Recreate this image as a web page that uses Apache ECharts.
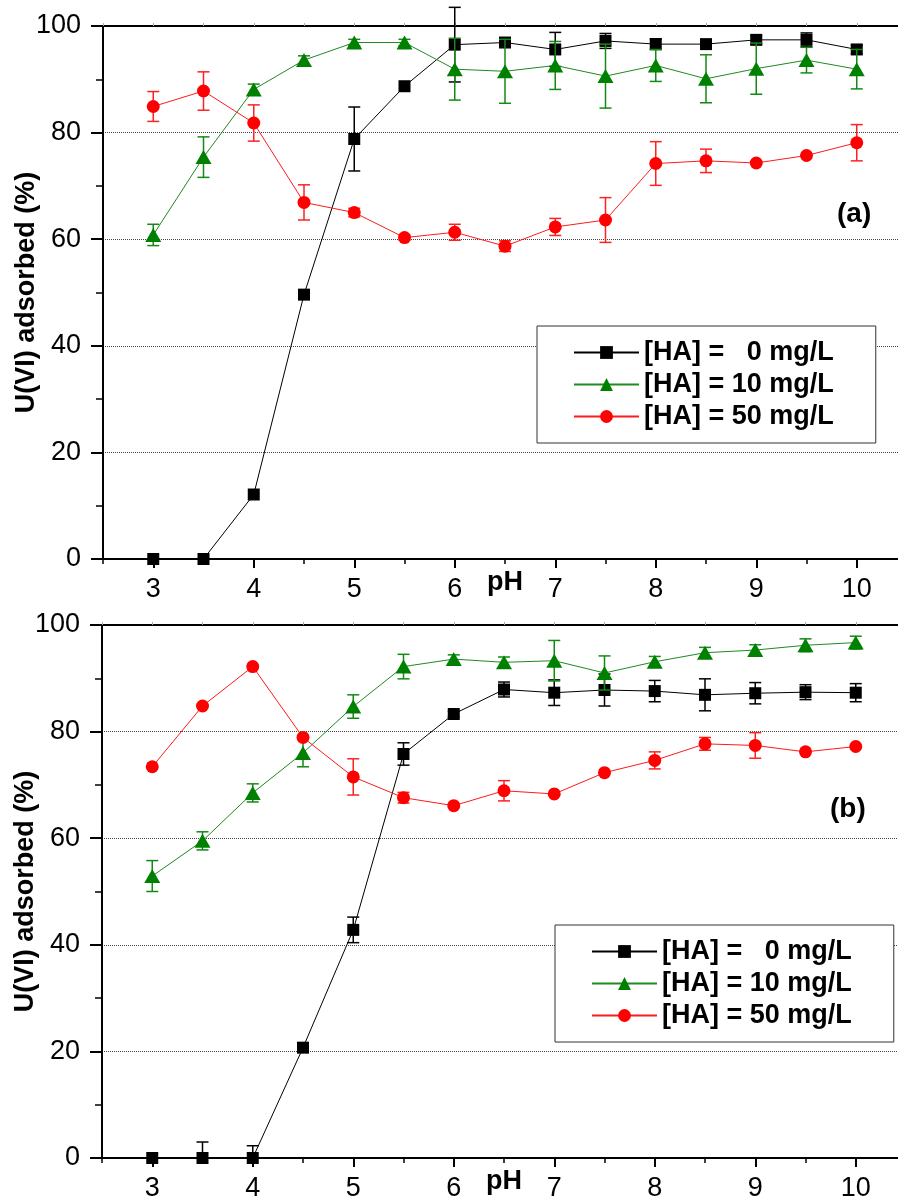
<!DOCTYPE html>
<html>
<head>
<meta charset="utf-8">
<script src="https://cdn.jsdelivr.net/npm/echarts@6/dist/echarts.min.js"></script>
<style>
  html, body { margin: 0; padding: 0; background: #fff; }
  #chart { width: 898px; height: 1202px; }
</style>
</head>
<body>
<div id="chart"></div>
<script>
// pH values of the adsorption runs
const pH = [3, 3.5, 4, 4.5, 5, 5.5, 6, 6.5, 7, 7.5, 8, 8.5, 9, 9.5, 10];
const pHLabels = [3, 4, 5, 6, 7, 8, 9, 10];
const yTicks = [0, 20, 40, 60, 80, 100];

// Panel (a): U(VI) adsorbed (%) and error (±)
const a_HA0 = [0, 0, 12.1, 49.6, 78.8, 88.7, 96.5, 96.9, 95.6, 97.2, 96.6, 96.6, 97.4, 97.4, 95.6];
const a_HA0_err = [0, 0, 0, 0, 6.0, 0, 7.0, 0.8, 3.2, 1.4, 1.0, 0, 0.8, 1.3, 0.8];
const a_HA10 = [60.8, 75.4, 88.1, 93.6, 96.9, 96.9, 91.9, 91.5, 92.6, 90.6, 92.6, 90.1, 92.0, 93.6, 91.9];
const a_HA10_err = [2.0, 3.8, 1.0, 0.8, 0.6, 0.6, 5.8, 6.0, 4.5, 6.0, 3.0, 4.5, 4.8, 2.4, 3.7];
const a_HA50 = [84.9, 87.8, 81.8, 66.9, 65.0, 60.3, 61.3, 58.7, 62.3, 63.6, 74.2, 74.7, 74.3, 75.7, 78.1];
const a_HA50_err = [2.8, 3.6, 3.4, 3.3, 0.8, 0.5, 1.5, 1.0, 1.6, 4.2, 4.1, 2.2, 0, 0, 3.4];

// Panel (b)
const b_HA0 = [0, 0, 0, 20.7, 42.8, 75.8, 83.3, 87.9, 87.3, 87.8, 87.6, 86.9, 87.2, 87.4, 87.3];
const b_HA0_err = [0, 3.0, 2.3, 0.5, 2.4, 2.1, 0.5, 1.4, 2.4, 3.0, 2.0, 3.0, 2.0, 1.4, 1.7];
const b_HA10 = [52.9, 59.5, 68.5, 76.0, 84.7, 92.2, 93.6, 93.0, 93.3, 91.0, 93.1, 94.8, 95.3, 96.2, 96.7];
const b_HA10_err = [2.9, 1.7, 1.7, 2.6, 2.2, 2.3, 0.8, 1.0, 3.8, 3.2, 1.0, 1.0, 1.0, 1.2, 1.2];
const b_HA50 = [73.4, 84.8, 92.2, 78.9, 71.5, 67.6, 66.1, 68.9, 68.3, 72.3, 74.6, 77.7, 77.4, 76.2, 77.2];
const b_HA50_err = [0, 0, 0, 0, 3.4, 1.0, 0, 1.9, 0, 0, 1.6, 1.2, 2.4, 0, 0];

const seriesNames = ['[HA] =   0 mg/L', '[HA] = 10 mg/L', '[HA] = 50 mg/L'];
const yName = 'U(VI) adsorbed (%)';
const xName = 'pH';

const FONT = "'Liberation Sans', Arial, Helvetica, sans-serif";

// marker / line styles for the three humic acid levels
const styles = [
  { symbol: 'rect', size: 12, color: '#000000', line: '#000000', err: '#000000' },
  { symbol: 'triangle', size: [16, 14], color: '#008000', line: '#1f8a1f', err: '#138a13' },
  { symbol: 'circle', size: 13, color: '#ff0000', line: '#ff1a1a', err: '#ff2020' }
];

const panels = [
  { top: 26, left: 103, tag: '(a)', tagPos: [837, 200], legendPos: [537, 326],
    values: [a_HA0, a_HA10, a_HA50], errors: [a_HA0_err, a_HA10_err, a_HA50_err] },
  { top: 625, left: 102, tag: '(b)', tagPos: [830, 795], legendPos: [555, 925],
    values: [b_HA0, b_HA10, b_HA50], errors: [b_HA0_err, b_HA10_err, b_HA50_err] }
];

const grids = [], xAxes = [], yAxes = [], series = [], legends = [], graphics = [];

function errorBars(xi, yi, vals, errs, color, z) {
  const data = [];
  pH.forEach((x, k) => { if (errs[k] > 0) data.push([x, vals[k], errs[k]]); });
  return {
    type: 'custom', xAxisIndex: xi, yAxisIndex: yi, z: z, silent: true, clip: false,
    encode: { x: 0, y: 1 },
    data: data,
    renderItem: function (params, api) {
      const x = api.value(0), y = api.value(1), e = api.value(2);
      const lo = Math.max(y - e, 0);
      const pTop = api.coord([x, y + e]);
      const pBot = api.coord([x, lo]);
      const cap = 6;
      const style = { stroke: color, lineWidth: 1.5 };
      const children = [
        { type: 'line', shape: { x1: pTop[0], y1: pTop[1], x2: pBot[0], y2: pBot[1] }, style: style },
        { type: 'line', shape: { x1: pTop[0] - cap, y1: pTop[1], x2: pTop[0] + cap, y2: pTop[1] }, style: style }
      ];
      if (y - e > 0) {
        children.push({ type: 'line', shape: { x1: pBot[0] - cap, y1: pBot[1], x2: pBot[0] + cap, y2: pBot[1] }, style: style });
      }
      return { type: 'group', children: children };
    }
  };
}

panels.forEach(function (p, i) {
  grids.push({ left: p.left, top: p.top, width: 804, height: 533, containLabel: false, outerBoundsMode: 'none' });

  const xi = xAxes.length;
  // main pH axis: integer ticks and labels
  xAxes.push({
    type: 'value', gridIndex: i, min: 2.5, max: 10.5, position: 'bottom',
    axisLine: { show: true, onZero: false, lineStyle: { color: '#000', width: 2 } },
    axisTick: { show: true, inside: false, length: 9, customValues: pHLabels, lineStyle: { color: '#000', width: 2 } },
    axisLabel: { show: true, margin: 17, customValues: pHLabels, fontSize: 27, color: '#000', fontFamily: FONT },
    splitLine: { show: false },
    name: xName, nameLocation: 'middle', nameGap: 10, nameMoveOverlap: false,
    nameTextStyle: { fontSize: 27, fontWeight: 'bold', color: '#000', fontFamily: FONT }
  });
  // half-unit minor ticks
  xAxes.push({
    type: 'value', gridIndex: i, min: 2.5, max: 10.5, interval: 0.5, position: 'bottom',
    axisLine: { show: false },
    axisTick: { show: true, inside: false, length: 5, lineStyle: { color: '#000', width: 1.5 } },
    axisLabel: { show: false }, splitLine: { show: false }
  });
  // top frame line
  xAxes.push({
    type: 'value', gridIndex: i, min: 2.5, max: 10.5, interval: 0.5, position: 'top',
    axisLine: { show: true, onZero: false, lineStyle: { color: '#000', width: 2 } },
    axisTick: { show: true, inside: false, length: 3, lineStyle: { color: '#aaa', width: 1 } },
    axisLabel: { show: false }, splitLine: { show: false }
  });

  yAxes.push({
    type: 'value', gridIndex: i, min: 0, max: 100, interval: 20,
    axisLine: { show: true, onZero: false, lineStyle: { color: '#000', width: 2 } },
    axisTick: { show: true, inside: false, length: 12, lineStyle: { color: '#000', width: 2 } },
    minorTick: { show: true, splitNumber: 2, length: 7, lineStyle: { color: '#000', width: 1.5 } },
    axisLabel: { margin: 22, fontSize: 27, color: '#000', fontFamily: FONT },
    splitLine: { show: true, lineStyle: { color: '#444', type: [1, 1], width: 1 } },
    name: yName, nameLocation: 'middle', nameGap: 63, nameMoveOverlap: false,
    nameTextStyle: { fontSize: 27, fontWeight: 'bold', color: '#000', fontFamily: FONT }
  });

  styles.forEach(function (s, k) {
    series.push(errorBars(xi, i, p.values[k], p.errors[k], s.err, 3 + 2 * k));
    series.push({
      type: 'line', name: seriesNames[k], xAxisIndex: xi, yAxisIndex: i, z: 4 + 2 * k,
      data: pH.map(function (x, j) { return [x, p.values[k][j]]; }),
      symbol: s.symbol, symbolSize: s.size, showAllSymbol: true,
      itemStyle: { color: s.color, borderWidth: 0 },
      lineStyle: { color: s.line, width: 1 },
      emphasis: { disabled: true },
      animation: false
    });
  });

  legends.push({
    left: p.legendPos[0], top: p.legendPos[1], orient: 'vertical',
    data: seriesNames, itemWidth: 65, itemHeight: 16, itemGap: 5,
    padding: [13, 42, 13, 36], borderColor: '#333', borderWidth: 1, backgroundColor: '#fff',
    selectedMode: false,
    textStyle: { fontSize: 27, fontWeight: 'bold', color: '#000', fontFamily: FONT, lineHeight: 27 }
  });

  graphics.push({
    type: 'text', left: p.tagPos[0], top: p.tagPos[1], z: 20,
    style: { text: p.tag, font: 'bold 28px ' + FONT, fill: '#000' }
  });
});

const chart = echarts.init(document.getElementById('chart'), null, { renderer: 'canvas' });
chart.setOption({
  backgroundColor: '#fff',
  animation: false,
  grid: grids,
  xAxis: xAxes,
  yAxis: yAxes,
  legend: legends,
  graphic: graphics,
  series: series
});
</script>
</body>
</html>
